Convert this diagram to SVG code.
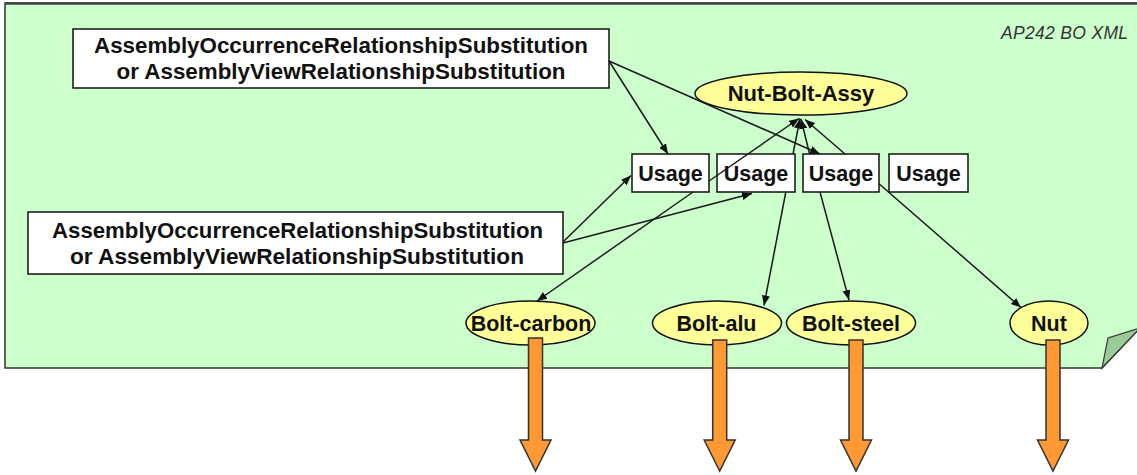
<svg xmlns="http://www.w3.org/2000/svg" width="1137" height="475" viewBox="0 0 1137 475">
<style>
.lbl{font-family:"Liberation Sans",Arial,sans-serif;font-weight:bold;fill:#111;text-anchor:middle}
.big{font-size:22px}
.sm{font-size:21.5px}
.box{fill:#fff;stroke:#111;stroke-width:1.5}
.ell{fill:#FFFF99;stroke:#111;stroke-width:1.5}
.con{stroke:#1a1a1a;stroke-width:1.5;fill:none;marker-end:url(#ah)}
.out{fill:#FF9933;stroke:#333;stroke-width:1.5;stroke-linejoin:miter}
</style>
<defs>
<marker id="ah" markerUnits="userSpaceOnUse" markerWidth="11" markerHeight="9" refX="10" refY="4" orient="auto">
<path d="M0,0 L10,4 L0,8 Z" fill="#111"/>
</marker>
</defs>
<rect width="1137" height="475" fill="#fff"/>
<g id="panel">
<path d="M5,3 L1140,3 L1140,328 L1102,368 L5,368 Z" fill="#CCFFCC" stroke="#333" stroke-width="1.5"/>
<line x1="5" y1="3.5" x2="1137" y2="3.5" stroke="#444" stroke-width="2.5"/>
<path d="M1102,368 L1108,338 L1140,328 Z" fill="#99CC99" stroke="#333" stroke-width="1.2"/>
<text x="1128" y="39" font-family="Liberation Sans,Arial,sans-serif" font-style="italic" font-size="17.5" fill="#333" text-anchor="end" textLength="127" lengthAdjust="spacing">AP242 BO XML</text>
</g>
<g id="aors-top">
<rect class="box" x="73" y="29" width="536" height="59"/>
<text class="lbl big" x="341" y="53" textLength="494" lengthAdjust="spacingAndGlyphs">AssemblyOccurrenceRelationshipSubstitution</text>
<text class="lbl big" x="341" y="79" textLength="449" lengthAdjust="spacingAndGlyphs">or AssemblyViewRelationshipSubstitution</text>
</g>
<g id="aors-bottom">
<rect class="box" x="28" y="212" width="535" height="62"/>
<text class="lbl big" x="297.5" y="237.5" textLength="491" lengthAdjust="spacingAndGlyphs">AssemblyOccurrenceRelationshipSubstitution</text>
<text class="lbl big" x="297" y="263.5" textLength="454" lengthAdjust="spacingAndGlyphs">or AssemblyViewRelationshipSubstitution</text>
</g>
<g id="nut-bolt-assy">
<ellipse class="ell" cx="801" cy="93.5" rx="106" ry="21.5"/>
<text class="lbl big" x="801" y="101">Nut-Bolt-Assy</text>
</g>
<g id="usage1">
<rect class="box" x="632" y="154" width="77" height="38"/>
<text class="lbl sm" x="670.5" y="181">Usage</text>
</g>
<g id="usage2">
<rect class="box" x="717" y="154" width="78" height="38"/>
<text class="lbl sm" x="756" y="181">Usage</text>
</g>
<g id="usage3">
<rect class="box" x="803" y="154" width="76" height="38"/>
<text class="lbl sm" x="841" y="181">Usage</text>
</g>
<g id="usage4">
<rect class="box" x="889" y="154" width="79" height="38"/>
<text class="lbl sm" x="928.5" y="181">Usage</text>
</g>
<g id="bolt-carbon">
<ellipse class="ell" cx="530.5" cy="323" rx="64.5" ry="22"/>
<text class="lbl sm" x="531" y="331">Bolt-carbon</text>
</g>
<g id="bolt-alu">
<ellipse class="ell" cx="717" cy="323" rx="64.5" ry="22"/>
<text class="lbl sm" x="716.5" y="331">Bolt-alu</text>
</g>
<g id="bolt-steel">
<ellipse class="ell" cx="851" cy="323" rx="64.5" ry="22"/>
<text class="lbl sm" x="851" y="331">Bolt-steel</text>
</g>
<g id="nut">
<ellipse class="ell" cx="1049" cy="323" rx="39" ry="22"/>
<text class="lbl sm" x="1049" y="331">Nut</text>
</g>
<g id="connectors">
<path class="con" d="M609,61 L668,154"/>
<path class="con" d="M609,61 L820,154"/>
<path class="con" d="M709,181 L799,118.5"/>
<path class="con" d="M693,192 L537,301"/>
<path class="con" d="M793,154 L800,118.5"/>
<path class="con" d="M785.8,192 L764,305.5"/>
<path class="con" d="M809.6,154 L801,119"/>
<path class="con" d="M820,192 L849,300"/>
<path class="con" d="M845,154 L805,119.5"/>
<path class="con" d="M879,183.7 L1021,307.5"/>
<path class="con" d="M563,242 L631,175.5"/>
<path class="con" d="M563,243 L752,193.5"/>
</g>
<g id="outputs">
<path class="out" d="M528.5,338 H542.5 V440 H551 L535.5,471 L520,440 H528.5 Z"/>
<path class="out" d="M712.7,340 H726.7 V440 H735.2 L719.7,471 L704.2,440 H712.7 Z"/>
<path class="out" d="M849,340 H863 V440 H871.5 L856,471 L840.5,440 H849 Z"/>
<path class="out" d="M1046,340 H1060 V440 H1068.5 L1053,471 L1037.5,440 H1046 Z"/>
</g>
</svg>
